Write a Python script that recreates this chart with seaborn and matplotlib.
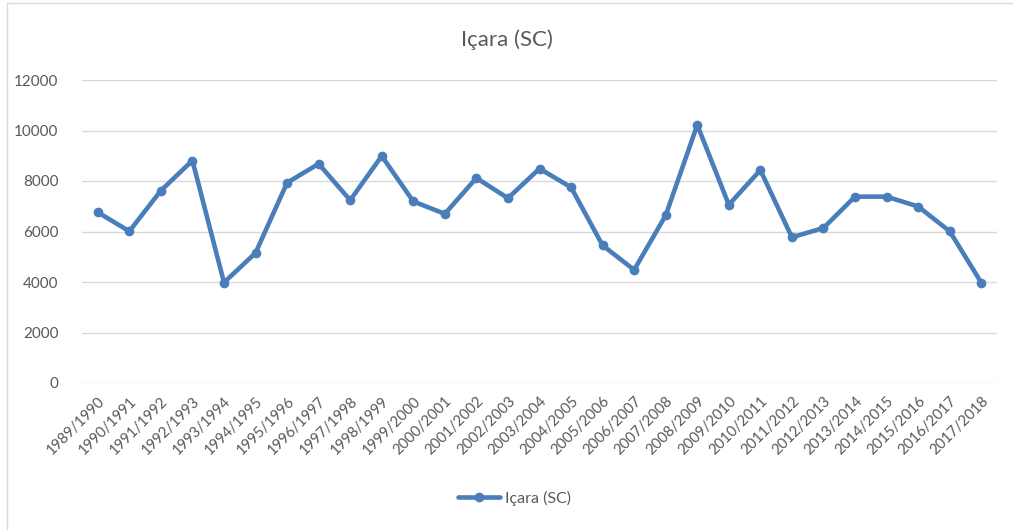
import matplotlib
import matplotlib.pyplot as plt
import pandas as pd
import seaborn as sns
from matplotlib.patches import Rectangle

matplotlib.use("Agg")

# safras e valores
SAFRAS = [
    "1989/1990", "1990/1991", "1991/1992", "1992/1993", "1993/1994",
    "1994/1995", "1995/1996", "1996/1997", "1997/1998", "1998/1999",
    "1999/2000", "2000/2001", "2001/2002", "2002/2003", "2003/2004",
    "2004/2005", "2005/2006", "2006/2007", "2007/2008", "2008/2009",
    "2009/2010", "2010/2011", "2011/2012", "2012/2013", "2013/2014",
    "2014/2015", "2015/2016", "2016/2017", "2017/2018",
]
VALORES = [
    6760, 6010, 7620, 8810, 3980,
    5150, 7930, 8680, 7240, 8990,
    7190, 6700, 8120, 7320, 8490,
    7750, 5450, 4480, 6640, 10220,
    7060, 8430, 5770, 6140, 7380,
    7380, 6990, 6010, 3980,
]
SERIE = "Içara (SC)"
Y_TICKS = [0, 2000, 4000, 6000, 8000, 10000, 12000]

LINE_COLOR = "#4A7EBB"
GRID_COLOR = "#D9D9D9"
TEXT_COLOR = "#595959"

sns.set_theme(style="white")
plt.rcParams["font.family"] = ["Lato", "DejaVu Sans"]

df = pd.DataFrame({"safra": SAFRAS, "valor": VALORES, "serie": SERIE})
df["pos"] = range(len(df))

fig = plt.figure(figsize=(10.13, 5.30), dpi=100)
ax = fig.add_axes([82 / 1013, 1 - 383 / 530, (997 - 82) / 1013, (383 - 80) / 530])

sns.lineplot(
    data=df, x="pos", y="valor", hue="serie", palette=[LINE_COLOR],
    marker="o", markersize=7, markeredgewidth=0, linewidth=3.3,
    ax=ax, legend=False,
)

ax.set_xlim(-0.5, len(SAFRAS) - 0.5)
ax.set_ylim(0, 12000)
ax.set_yticks(Y_TICKS)
ax.set_yticklabels([str(v) for v in Y_TICKS], fontsize=11, color=TEXT_COLOR)
ax.set_xticks(range(len(SAFRAS)))
ax.set_xticklabels(SAFRAS, rotation=45, ha="right", rotation_mode="anchor",
                   fontsize=10.7, color=TEXT_COLOR)
ax.tick_params(axis="both", length=0)
ax.tick_params(axis="y", pad=17)
ax.tick_params(axis="x", pad=8)
ax.set_xlabel("")
ax.set_ylabel("")
for spine in ax.spines.values():
    spine.set_visible(False)
ax.yaxis.grid(True, color=GRID_COLOR, linewidth=1)
ax.xaxis.grid(False)
ax.set_axisbelow(True)

fig.text(0.5, 1 - 40 / 530, SERIE, ha="center", va="center",
         fontsize=16, color=TEXT_COLOR)

handle = plt.Line2D([], [], color=LINE_COLOR, linewidth=3.3, marker="o",
                    markersize=7, markeredgewidth=0)
fig.legend([handle], [SERIE], loc="center", bbox_to_anchor=(0.508, 1 - 498 / 530),
           frameon=False, fontsize=11.5, labelcolor=TEXT_COLOR,
           handlelength=2.6, handletextpad=0.3)

# moldura cinza do grafico (Excel)
fig.patches.append(Rectangle((7 / 1013, -0.1), 1.2, 1 - 3 / 530 + 0.1,
                             transform=fig.transFigure, fill=False,
                             edgecolor=GRID_COLOR, linewidth=1))

fig.savefig("out.png", dpi=100)
